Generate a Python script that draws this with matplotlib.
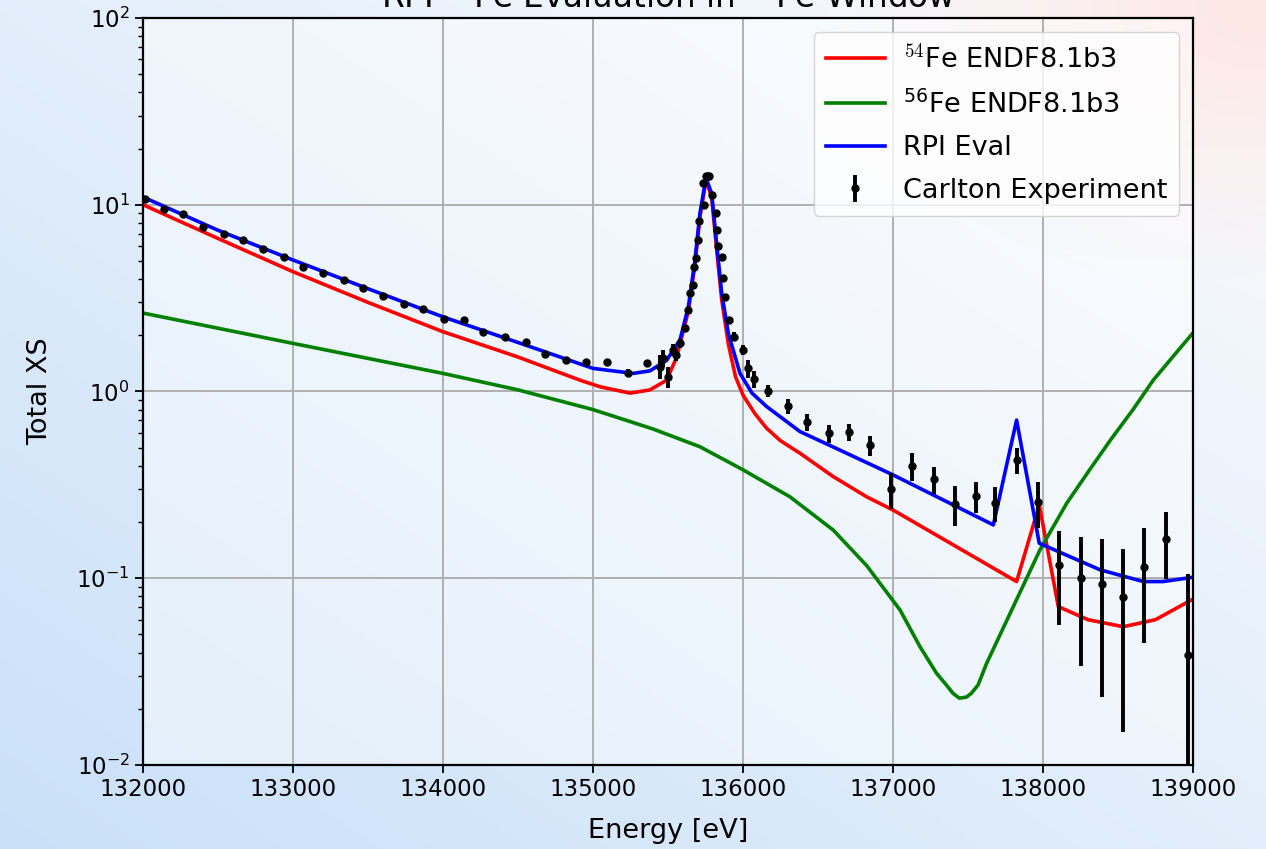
import numpy as np
import matplotlib
matplotlib.use("Agg")
import matplotlib.pyplot as plt

# ---- evaluated cross sections (energy in eV, total XS in b) ----
fe54_energy = [132000, 132500, 133000, 133500, 134000, 134500, 134913, 135047,
               135247, 135380, 135491, 135558, 135636, 135680, 135713, 135753,
               135791, 135824, 135858, 135902, 135950, 136002, 136080, 136158,
               136250, 136380, 136602, 136824, 137000, 137824, 137975, 138102,
               138300, 138535, 138750, 138991]
fe54_xs = [10.0, 6.6, 4.38, 3.0, 2.09, 1.53, 1.15, 1.06,
           0.98, 1.02, 1.15, 1.53, 2.7, 4.8, 8.6, 13.5,
           11.0, 5.8, 3.1, 1.8, 1.2, 0.95, 0.76, 0.635,
           0.545, 0.467, 0.35, 0.273, 0.232, 0.096, 0.247, 0.0705,
           0.060, 0.055, 0.060, 0.0766]

fe56_energy = [132000, 133000, 134000, 134500, 135000, 135400, 135713, 136002,
               136313, 136602, 136824, 137047, 137180, 137290, 137356, 137400,
               137442, 137490, 137522, 137567, 137624, 137713, 137802, 137891,
               137980, 138158, 138300, 138450, 138600, 138735, 138870, 139000]
fe56_xs = [2.63, 1.81, 1.25, 1.02, 0.80, 0.63, 0.506, 0.38,
           0.273, 0.181, 0.117, 0.0676, 0.043, 0.031, 0.0268, 0.0242,
           0.0228, 0.0231, 0.0242, 0.0268, 0.035, 0.0497, 0.0705, 0.100,
           0.142, 0.252, 0.37, 0.55, 0.80, 1.15, 1.55, 2.06]

rpi_energy = [132000, 132500, 133000, 133500, 134000, 134500, 135000, 135267,
              135380, 135491, 135580, 135636, 135680, 135713, 135753, 135791,
              135824, 135858, 135902, 135980, 136060, 136158, 136380, 136691,
              137002, 137669, 137824, 137975, 138380, 138669, 138800, 138991]
rpi_xs = [11.0, 7.3, 5.06, 3.55, 2.51, 1.83, 1.33, 1.25,
          1.29, 1.47, 1.89, 2.85, 5.06, 9.0, 13.9, 11.5,
          6.2, 3.36, 2.05, 1.25, 0.98, 0.83, 0.61, 0.467,
          0.357, 0.193, 0.703, 0.154, 0.111, 0.096, 0.096, 0.101]

# ---- transmission measurement ----
exp_energy = [132013, 132142, 132269, 132398, 132542, 132669, 132798, 132940,
              133069, 133198, 133340, 133469, 133598, 133740, 133869, 134007,
              134140, 134269, 134413, 134553, 134680, 134820, 134953, 135095,
              135235, 135362, 135447, 135464, 135502, 135531, 135553, 135580,
              135613, 135631, 135647, 135664, 135676, 135687, 135698, 135709,
              135736, 135740, 135753, 135765, 135776, 135791, 135820, 135829,
              135831, 135858, 135865, 135880, 135909, 135942, 135998, 136036,
              136073, 136169, 136302, 136429, 136576, 136707, 136847, 136984,
              137124, 137273, 137413, 137553, 137680, 137824, 137969, 138109,
              138251, 138391, 138536, 138676, 138818, 138964]
exp_xs = [10.8, 9.46, 8.89, 7.63, 6.96, 6.47, 5.77, 5.23,
          4.62, 4.33, 3.95, 3.57, 3.25, 2.94, 2.76, 2.44,
          2.40, 2.07, 1.97, 1.83, 1.59, 1.47, 1.43, 1.44,
          1.26, 1.42, 1.36, 1.51, 1.20, 1.67, 1.57, 1.81,
          2.18, 2.73, 3.36, 3.72, 4.66, 5.16, 6.47, 8.18,
          13.0, 9.97, 14.3, 14.3, 14.3, 11.3, 9.07, 7.33,
          6.02, 5.27, 4.04, 3.22, 2.40, 1.97, 1.67, 1.33,
          1.16, 1.01, 0.835, 0.689, 0.597, 0.609, 0.517, 0.299,
          0.399, 0.339, 0.250, 0.276, 0.254, 0.430, 0.257, 0.118,
          0.100, 0.093, 0.079, 0.115, 0.162, 0.039]
exp_err = [0.06, 0.06, 0.06, 0.06, 0.06, 0.06, 0.06, 0.06,
           0.06, 0.06, 0.06, 0.06, 0.06, 0.06, 0.06, 0.06,
           0.06, 0.06, 0.06, 0.06, 0.06, 0.06, 0.06, 0.06,
           0.06, 0.06, 0.20, 0.15, 0.15, 0.12, 0.12, 0.10,
           0.10, 0.10, 0.10, 0.10, 0.10, 0.10, 0.10, 0.10,
           0.20, 0.20, 0.30, 0.30, 0.30, 0.20, 0.15, 0.10,
           0.10, 0.10, 0.10, 0.10, 0.10, 0.10, 0.10, 0.15,
           0.12, 0.07, 0.078, 0.071, 0.067, 0.063, 0.064, 0.065,
           0.067, 0.057, 0.060, 0.053, 0.055, 0.070, 0.072, 0.062,
           0.066, 0.070, 0.064, 0.070, 0.063, 0.066]

x_ticks = [132000, 133000, 134000, 135000, 136000, 137000, 138000, 139000]

TICK_FS = 16.5
LABEL_FS = 19.5
LW = 2.6

fig = plt.figure(figsize=(12.66, 8.49), dpi=100)

# soft blue/pink backdrop behind the whole figure
bg = fig.add_axes([0, 0, 1, 1], zorder=-10)
bg.set_axis_off()
ny, nx = 200, 300
yy, xx = np.mgrid[0:1:ny * 1j, 0:1:nx * 1j]
base = np.array([0.79, 0.88, 0.975])
light = np.array([0.97, 0.978, 0.992])
pink = np.array([0.995, 0.905, 0.895])
t = np.clip(0.55 * (1 - yy) + 0.55 * xx, 0, 1)[..., None]
img = base * (1 - t) + light * t
p = np.clip(1 - np.hypot(1 - xx, yy) / 0.35, 0, 1)[..., None]
img = img * (1 - p) + pink * p
bg.imshow(img, extent=[0, 1, 0, 1], aspect="auto", origin="upper")

ax = fig.add_axes([143 / 1266, 1 - 765 / 849, 1050 / 1266, 747 / 849])
ax.set_facecolor((1, 1, 1, 0.45))

ax.plot(fe54_energy, fe54_xs, color="red", lw=LW, label=r"$^{54}$Fe ENDF8.1b3")
ax.plot(fe56_energy, fe56_xs, color="green", lw=LW, label=r"$^{56}$Fe ENDF8.1b3")
ax.plot(rpi_energy, rpi_xs, color="blue", lw=LW, label="RPI Eval")
ax.errorbar(exp_energy, exp_xs, yerr=exp_err, fmt="k.", ms=10, elinewidth=2.8,
            label="Carlton Experiment")

ax.set_yscale("log")
ax.set_xlim(132000, 139000)
ax.set_ylim(1e-2, 1e2)
ax.set_xticks(x_ticks)
ax.set_xticklabels([str(v) for v in x_ticks])
ax.grid(True, which="major", color="#b0b0b0", lw=1.4)
ax.tick_params(axis="both", which="major", labelsize=TICK_FS, length=6, width=1.3)
ax.tick_params(axis="both", which="minor", length=3.5, width=1.0)
for s in ax.spines.values():
    s.set_linewidth(1.6)

ax.set_xlabel("Energy [eV]", fontsize=LABEL_FS, labelpad=12)
ax.set_ylabel("Total XS", fontsize=LABEL_FS, labelpad=17)
ax.set_title(r"RPI $^{54}$Fe Evaluation in $^{56}$Fe Window", fontsize=23.5, pad=7)

leg = ax.legend(loc="upper right", fontsize=LABEL_FS, framealpha=0.8,
                handlelength=2.2, handletextpad=0.65, borderaxespad=0.5,
                labelspacing=0.61, borderpad=0.45)
leg.get_texts()[0].set_math_fontfamily("cm")

fig.savefig("out.png", dpi=100)
